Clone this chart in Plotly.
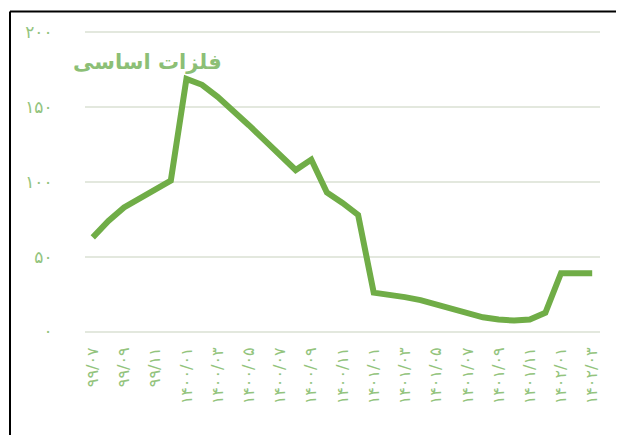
import plotly.graph_objects as go

# Monthly categories (Persian calendar), 99/07 .. 1402/03
months = [
    "۹۹/۰۷", "۹۹/۰۸", "۹۹/۰۹", "۹۹/۱۰", "۹۹/۱۱", "۹۹/۱۲",
    "۱۴۰۰/۰۱", "۱۴۰۰/۰۲", "۱۴۰۰/۰۳", "۱۴۰۰/۰۴", "۱۴۰۰/۰۵", "۱۴۰۰/۰۶",
    "۱۴۰۰/۰۷", "۱۴۰۰/۰۸", "۱۴۰۰/۰۹", "۱۴۰۰/۱۰", "۱۴۰۰/۱۱", "۱۴۰۰/۱۲",
    "۱۴۰۱/۰۱", "۱۴۰۱/۰۲", "۱۴۰۱/۰۳", "۱۴۰۱/۰۴", "۱۴۰۱/۰۵", "۱۴۰۱/۰۶",
    "۱۴۰۱/۰۷", "۱۴۰۱/۰۸", "۱۴۰۱/۰۹", "۱۴۰۱/۱۰", "۱۴۰۱/۱۱", "۱۴۰۱/۱۲",
    "۱۴۰۲/۰۱", "۱۴۰۲/۰۲", "۱۴۰۲/۰۳",
]
values = [
    63, 74, 83, 89, 95, 101,
    169, 165, 157, 148, 138, 128,
    118, 108, 115, 93, 86, 78,
    26, 25, 23, 21, 18, 15,
    12, 9.5, 8, 7.3, 8, 12.5,
    39, 39.5, 39,
]
x_tick_labels = months[::2]
y_tick_vals = [0, 50, 100, 150, 200]
y_tick_text = ["۰", "۵۰", "۱۰۰", "۱۵۰", "۲۰۰"]
title_text = "فلزات اساسی"

line_color = "#70AD47"
label_color = "#93C47D"
title_color = "#8CBF76"
grid_color = "#E3E8DE"

# the page body adds an 8px offset; lay out in window pixels minus 8
OFF = 8
W, H = 624 - OFF, 435 - OFF
# y range padded by 3 units (1.5 px/unit) so edge gridlines are drawn
PAD = 3
L, R = 85 - OFF, 600 - OFF
T, B = 32 - OFF - PAD * 1.5, 332 - OFF + PAD * 1.5

def px_x(p):
    return (p - OFF - L) / (R - L)

def px_y(p):
    return (B - (p - OFF)) / (B - T)

fig = go.Figure()
fig.add_trace(go.Scatter(
    x=months, y=values, mode="lines",
    line=dict(color=line_color, width=6),
    hoverinfo="x+y",
))

fig.update_layout(
    width=W, height=H,
    margin=dict(l=L, r=W - R, t=T, b=H - B, autoexpand=False),
    paper_bgcolor="white", plot_bgcolor="white",
    showlegend=False,
    font=dict(family="DejaVu Sans", color=label_color),
    xaxis=dict(
        type="category",
        range=[-0.5, len(months) - 0.5],
        tickvals=x_tick_labels, ticktext=x_tick_labels,
        tickangle=-90,
        tickfont=dict(size=16, color=label_color, family="DejaVu Sans"),
        showgrid=False, zeroline=False, showline=False,
        ticks="outside", ticklen=4, tickcolor="rgba(0,0,0,0)",
        automargin=False,
    ),
    yaxis=dict(
        range=[-PAD, 200 + PAD],
        tickvals=y_tick_vals, ticktext=y_tick_text,
        tickfont=dict(size=17, color=label_color, family="DejaVu Sans"),
        showgrid=True, gridcolor=grid_color, gridwidth=1.5,
        zeroline=False, showline=False,
        ticks="outside", ticklen=28, tickcolor="rgba(0,0,0,0)",
        automargin=False,
    ),
    annotations=[dict(
        text="<b>" + title_text + "</b>",
        xref="paper", yref="paper",
        x=px_x(147), y=px_y(62), xanchor="center", yanchor="middle",
        showarrow=False,
        font=dict(size=21, color=title_color, family="DejaVu Sans"),
    )],
    shapes=[
        dict(type="line", xref="paper", yref="paper",
             x0=px_x(10), x1=px_x(640), y0=px_y(11), y1=px_y(11),
             line=dict(color="black", width=2)),
        dict(type="line", xref="paper", yref="paper",
             x0=px_x(10), x1=px_x(10), y0=px_y(11), y1=px_y(450),
             line=dict(color="black", width=2)),
    ],
)

fig.write_html("out.html")
